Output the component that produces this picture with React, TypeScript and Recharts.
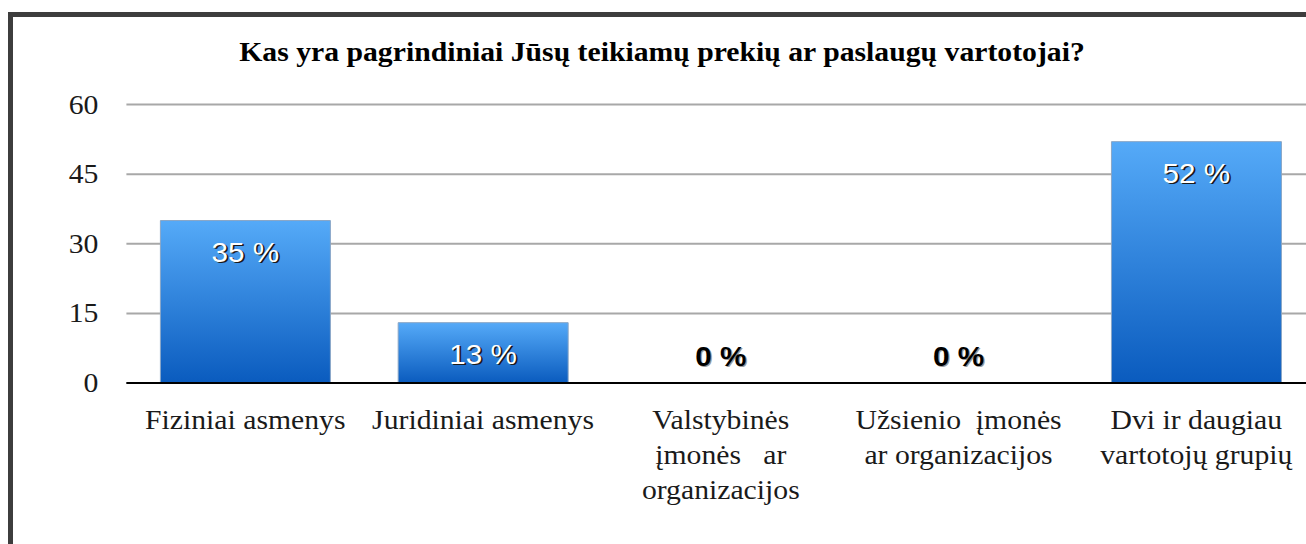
import { BarChart, Bar, XAxis, YAxis, CartesianGrid, LabelList, Rectangle } from "recharts";

// chart data
const title = "Kas yra pagrindiniai Jūsų teikiamų prekių ar paslaugų vartotojai?";
const categories = [
  "Fiziniai asmenys",
  "Juridiniai asmenys",
  "Valstybinės\nįmonės   ar\norganizacijos",
  "Užsienio  įmonės\nar organizacijos",
  "Dvi ir daugiau\nvartotojų grupių",
];
const shares = [35, 13, 0, 0, 52];
const yTicks = [0, 15, 30, 45, 60];

const data = categories.map((name, i) => ({ name, value: shares[i] }));

const SERIF = "'Liberation Serif', 'Times New Roman', serif";
const SANS = "'Liberation Sans', Arial, sans-serif";
const STRETCH = 1.1;

const CategoryTick = (props: any) => {
  const { x, y, payload } = props;
  const lines = String(payload.value).split("\n");
  return (
    <g transform={`translate(${x},${y}) scale(${STRETCH},1)`}>
      {lines.map((line, i) => (
        <text
          key={i}
          x={0}
          y={46 + i * 35}
          textAnchor="middle"
          fontFamily={SERIF}
          fontSize={27}
          fill="#1a1a1a"
          style={{ whiteSpace: "pre" }}
        >
          {line}
        </text>
      ))}
    </g>
  );
};

const ValueTick = (props: any) => {
  const { x, y, payload } = props;
  return (
    <g transform={`translate(${x},${y}) scale(${STRETCH},1)`}>
      <text
        x={0}
        y={0}
        textAnchor="end"
        dominantBaseline="central"
        fontFamily={SERIF}
        fontSize={27}
        fill="#1a1a1a"
      >
        {payload.value}
      </text>
    </g>
  );
};

// zero bars are kept 1px tall so they still get a label, but drawn as nothing
const BarShape = (props: any) => {
  if (!props.value) return <g />;
  return <Rectangle {...props} />;
};

const BarValueLabel = (props: any) => {
  const { x, y, width, height, value } = props;
  const cx = x + width / 2;
  const text = `${value} %`;
  if (!value) {
    const base = y + height;
    return (
      <g transform={`translate(${cx},${base - 27}) scale(${STRETCH},1)`}>
        <text x={1} y={1} textAnchor="middle" dominantBaseline="central"
          fontFamily={SANS} fontWeight="bold" fontSize={27} fill="#9a9a9a">
          {text}
        </text>
        <text x={0} y={0} textAnchor="middle" dominantBaseline="central"
          fontFamily={SANS} fontWeight="bold" fontSize={27} fill="#000">
          {text}
        </text>
      </g>
    );
  }
  return (
    <g transform={`translate(${cx},${y + 31.5}) scale(${STRETCH},1)`}>
      <text x={1.5} y={1.5} textAnchor="middle" dominantBaseline="central"
        fontFamily={SANS} fontSize={27} fill="#1b1b1b">
        {text}
      </text>
      <text x={0} y={0} textAnchor="middle" dominantBaseline="central"
        fontFamily={SANS} fontSize={27} fill="#ffffff">
        {text}
      </text>
    </g>
  );
};

export default function App() {
  return (
    <>
      <style>{`body{margin:0;overflow:hidden;}`}</style>
      <div
        style={{
          position: "absolute",
          left: 8,
          top: 12,
          width: 1298,
          height: 532,
          boxSizing: "border-box",
          borderLeft: "5px solid #3d3d3d",
          borderTop: "5px solid #3d3d3d",
          overflow: "hidden",
          background: "#fff",
        }}
      >
        <div
          style={{
            position: "absolute",
            left: 0,
            top: 22,
            width: 1298,
            textAlign: "center",
            fontFamily: SERIF,
            fontWeight: "bold",
            fontSize: 27,
            lineHeight: "27px",
            color: "#000",
            whiteSpace: "nowrap",
            transform: `scaleX(${STRETCH})`,
            transformOrigin: "649px 0",
            zIndex: 1,
          }}
        >
          {title}
        </div>
        <BarChart
          width={1310}
          height={527}
          data={data}
          margin={{ top: 87.5, right: 7.8, bottom: 0, left: 33.4 }}
        >
          <defs>
            <linearGradient id="barFill" x1="0" y1="0" x2="0" y2="1">
              <stop offset="0%" stopColor="#55aaf8" />
              <stop offset="100%" stopColor="#0a5bbe" />
            </linearGradient>
          </defs>
          <CartesianGrid vertical={false} stroke="#a8a8a8" strokeWidth={2} />
          <XAxis
            dataKey="name"
            interval={0}
            height={161}
            tickLine={false}
            tickSize={0}
            tickMargin={0}
            axisLine={{ stroke: "#000", strokeWidth: 2 }}
            tick={<CategoryTick />}
          />
          <YAxis
            domain={[0, 60]}
            ticks={yTicks}
            width={80}
            axisLine={false}
            tickLine={false}
            tickSize={0}
            tickMargin={28}
            tick={<ValueTick />}
          />
          <Bar
            dataKey="value"
            barSize={170}
            minPointSize={1}
            fill="url(#barFill)"
            stroke="#8aa6c6"
            strokeWidth={1}
            shape={<BarShape />}
            isAnimationActive={false}
          >
            <LabelList dataKey="value" content={<BarValueLabel />} />
          </Bar>
        </BarChart>
      </div>
    </>
  );
}
